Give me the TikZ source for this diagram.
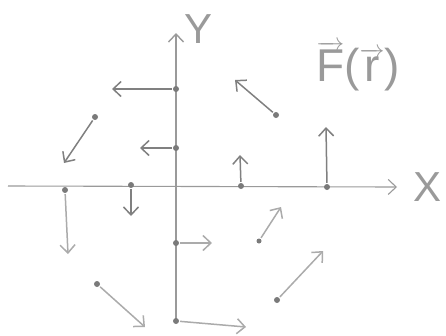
\documentclass[tikz,border=0pt]{standalone}
\usepackage{fontspec}
\setsansfont{Liberation Sans}
\usetikzlibrary{arrows.meta}
\definecolor{axgray}{HTML}{9A9A9A}
\definecolor{dkgray}{HTML}{808080}
\definecolor{ltgray}{HTML}{ABABAB}
\definecolor{dotgray}{HTML}{7A7A7A}

\begin{document}
\begin{tikzpicture}[
  x=1pt, y=-1pt,
  >={Straight Barb[length=8pt, width=15pt]},
  pt/.style={circle, fill=dotgray, inner sep=0pt, minimum size=6pt},
  vec/.style={->, line width=1.5pt, draw=#1, shorten <=1pt},
  vec/.default=dkgray,
  axis/.style={->, line width=1.1pt, axgray},
  lbl/.style={font=\sffamily\fontsize{#1}{#1}\selectfont, text=axgray},
]

% Frame
\useasboundingbox (0,0) rectangle (446,335);

% === Axes ===
\coordinate (ybot) at (176,323);
\coordinate (ytop) at (176,33);
\coordinate (xleft) at (8,186);
\coordinate (xright) at (397,187);
\draw[axis, line width=1.4pt] (ybot) -- (ytop);
\draw[axis] (xleft) -- (xright);
\node[lbl=42] (ylbl) at (199,29) {Y};
\node[lbl=42] (xlbl) at (427,187) {X};

% === Field label ===
\node[lbl=46, inner sep=0pt] (field) at (358,66)
  {$\overrightarrow{\hbox{F}}$($\overrightarrow{\hbox{r}}$)};

% === Points on the y axis ===
\node[pt] (ya) at (176,89) {};
\node[pt] (yb) at (176,148) {};
\node[pt] (yc) at (176,243) {};
\node[pt] (yd) at (176,321) {};
\coordinate (yaend) at (112,89);
\coordinate (ybend) at (140,148);
\coordinate (ycend) at (212,243);
\coordinate (ydend) at (246,327);
\draw[vec] (ya) -- (yaend);
\draw[vec] (yb) -- (ybend);
\draw[vec=ltgray] (yc) -- (ycend);
\draw[vec=ltgray] (yd) -- (ydend);

% === Points on the x axis ===
\node[pt] (xa) at (65,190) {};
\node[pt] (xb) at (131,185) {};
\node[pt] (xc) at (241,186) {};
\node[pt] (xd) at (327,187) {};
\coordinate (xaend) at (68,254);
\coordinate (xbend) at (131,216);
\coordinate (xcend) at (240,155);
\coordinate (xdend) at (326,127);
\draw[vec=ltgray] (xa) -- (xaend);
\draw[vec] (xb) -- (xbend);
\draw[vec] (xc) -- (xcend);
\draw[vec] (xd) -- (xdend);

% === Points off the axes ===
\node[pt] (pa) at (95,117) {};
\node[pt] (pb) at (276,115) {};
\node[pt, minimum size=5pt] (pc) at (259,241) {};
\node[pt] (pd) at (277,300) {};
\node[pt] (pe) at (97,284) {};
\coordinate (paend) at (64,163);
\coordinate (pbend) at (235,80);
\coordinate (pcend) at (281,207);
\coordinate (pdend) at (323,251);
\coordinate (peend) at (145,327);
\draw[vec] (pa) -- (paend);
\draw[vec] (pb) -- (pbend);
\draw[vec=ltgray] (pc) -- (pcend);
\draw[vec=ltgray] (pd) -- (pdend);
\draw[vec=ltgray] (pe) -- (peend);

\end{tikzpicture}
\end{document}
